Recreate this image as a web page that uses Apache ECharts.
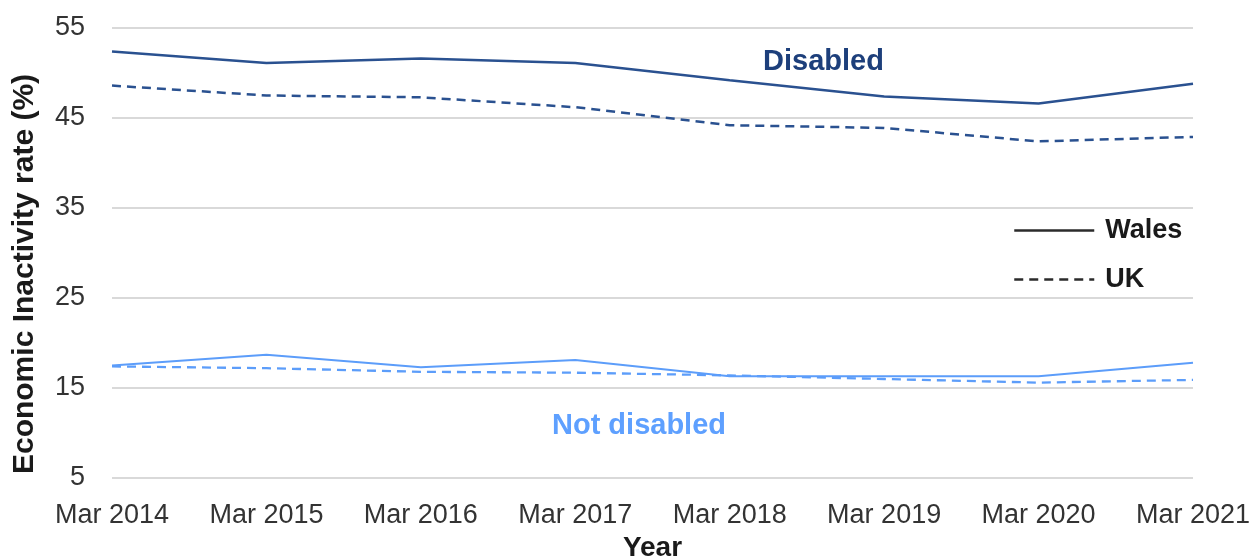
<!DOCTYPE html>
<html>
<head>
<meta charset="utf-8">
<script src="https://cdn.jsdelivr.net/npm/echarts@6/dist/echarts.min.js"></script>
<style>
  html, body { margin: 0; padding: 0; background: #fff; }
  #chart { width: 1255px; height: 560px; }
</style>
</head>
<body>
<div id="chart"></div>
<script>
// categories
const years = ['Mar 2014', 'Mar 2015', 'Mar 2016', 'Mar 2017', 'Mar 2018', 'Mar 2019', 'Mar 2020', 'Mar 2021']

// economic inactivity rate (%)
const walesDisabled = [52.4, 51.1, 51.6, 51.1, 49.2, 47.4, 46.6, 48.8]
const ukDisabled = [48.6, 47.5, 47.3, 46.2, 44.2, 43.9, 42.4, 42.9]
const walesNotDisabled = [17.5, 18.7, 17.3, 18.1, 16.3, 16.3, 16.3, 17.8]
const ukNotDisabled = [17.4, 17.2, 16.8, 16.7, 16.4, 16.0, 15.6, 15.9]

const FONT = '"Liberation Sans", Arial, sans-serif'
const DARK = '#2a5190'
const LIGHT = '#5c9dfa'
const DASH = [9, 6]

const chart = echarts.init(document.getElementById('chart'))

const lineSeries = (name, data, color, dashed, width) => ({
  name: name,
  type: 'line',
  data: data,
  symbol: 'none',
  lineStyle: { color: color, width: width, type: dashed ? DASH : 'solid' },
  itemStyle: { color: color },
  z: dashed ? 2 : 3
})

chart.setOption({
  animation: false,
  textStyle: { fontFamily: FONT },
  grid: { left: 112, right: 62, top: 28, bottom: 82, containLabel: false, outerBoundsMode: 'none' },
  legend: {
    data: ['Wales', 'UK'],
    orient: 'vertical',
    left: 1008,
    top: 212,
    itemWidth: 80,
    itemHeight: 20,
    itemGap: 22,
    itemStyle: { opacity: 0 },
    lineStyle: { color: '#2b2b2b', width: 2.5 },
    textStyle: { fontFamily: FONT, fontSize: 27, fontWeight: 'bold', color: '#1a1a1a', padding: [0, 0, 0, 6] }
  },
  xAxis: {
    type: 'category',
    data: years,
    boundaryGap: false,
    name: 'Year',
    nameLocation: 'middle',
    nameGap: 56,
    nameTextStyle: { fontFamily: FONT, fontSize: 28, fontWeight: 'bold', color: '#1a1a1a' },
    axisLine: { show: false },
    axisTick: { show: false },
    axisLabel: { fontFamily: FONT, fontSize: 27, color: '#333', margin: 24 }
  },
  yAxis: {
    type: 'value',
    min: 5,
    max: 55,
    interval: 10,
    name: 'Economic Inactivity rate (%)',
    nameLocation: 'middle',
    nameGap: 72,
    nameTextStyle: { fontFamily: FONT, fontSize: 30, fontWeight: 'bold', color: '#1a1a1a', padding: [0, 42, 0, 0] },
    axisLine: { show: false },
    axisTick: { show: false },
    axisLabel: { fontFamily: FONT, fontSize: 27, color: '#333', margin: 27 },
    splitLine: { lineStyle: { color: '#d9d9d9', width: 2 } }
  },
  graphic: [
    {
      type: 'text', left: 763, top: 47,
      style: { text: 'Disabled', fontFamily: FONT, fontSize: 29, fontWeight: 'bold', fill: '#1d3f7b' }
    },
    {
      type: 'text', left: 552, top: 411,
      style: { text: 'Not disabled', fontFamily: FONT, fontSize: 29, fontWeight: 'bold', fill: '#5ea0ff' }
    }
  ],
  series: [
    lineSeries('Wales', walesDisabled, DARK, false, 2.5),
    lineSeries('UK', ukDisabled, DARK, true, 2.5),
    lineSeries('Wales', walesNotDisabled, LIGHT, false, 2),
    lineSeries('UK', ukNotDisabled, LIGHT, true, 2.3)
  ]
})
</script>
</body>
</html>
